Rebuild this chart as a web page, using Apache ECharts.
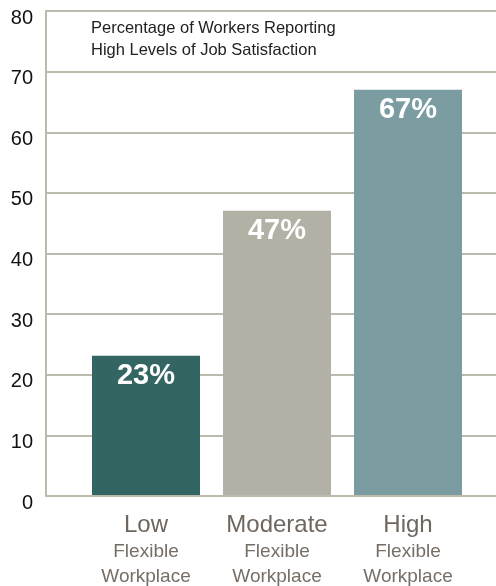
<!DOCTYPE html>
<html>
<head>
<meta charset="utf-8">
<script src="https://cdn.jsdelivr.net/npm/echarts@6/dist/echarts.min.js"></script>
<style>
  html, body { margin: 0; padding: 0; background: #fff; }
  #main { width: 496px; height: 586px; }
</style>
</head>
<body>
<div id="main"></div>
<script>
// chart data
const levels = ['Low', 'Moderate', 'High'];
const satisfaction = [23, 47, 67];
const barColors = ['#336663', '#b3b1a5', '#7b9da1'];
const titleLines = ['Percentage of Workers Reporting', 'High Levels of Job Satisfaction'];

let myChart = echarts.init(document.getElementById('main'));
const lineColor = '#bcb9ad';
const font = 'Liberation Sans, Arial, sans-serif';

let option = {
    animation: false,
    // title sits inside the plot area
    title: {
        text: titleLines.join('\n'),
        left: 86,
        top: 12,
        textStyle: {
            fontFamily: font,
            fontSize: 16.5,
            fontWeight: 'normal',
            color: '#222',
            lineHeight: 22
        }
    },
    grid: [
        // full-width grid for the y axis and gridlines
        { left: 46, right: 0, top: 11, bottom: 90 },
        // narrower grid that holds the bars
        { left: 80.5, width: 393, top: 11, bottom: 90 }
    ],
    xAxis: [
        {
            gridIndex: 0,
            type: 'category',
            data: [''],
            axisLine: { show: true, lineStyle: { color: lineColor, width: 2 } },
            axisTick: { show: false },
            axisLabel: { show: false }
        },
        {
            gridIndex: 1,
            type: 'category',
            data: levels,
            axisLine: { show: false },
            axisTick: { show: false },
            axisLabel: {
                margin: 17,
                formatter: v => '{a|' + v + '}\n{b|Flexible}\n{b|Workplace}',
                rich: {
                    a: { fontFamily: font, fontSize: 24, color: '#6f665e', lineHeight: 27 },
                    b: { fontFamily: font, fontSize: 19, color: '#776e66', lineHeight: 25 }
                }
            }
        }
    ],
    yAxis: [
        {
            gridIndex: 0,
            type: 'value',
            min: 0,
            max: 80,
            interval: 10,
            axisLine: { show: true, lineStyle: { color: lineColor, width: 2 } },
            axisTick: { show: false },
            splitLine: { show: true, lineStyle: { color: lineColor, width: 2 } },
            axisLabel: {
                margin: 13,
                fontFamily: font,
                fontSize: 20,
                color: '#111',
                // labels sit a little below their gridline
                verticalAlign: 'top',
                lineHeight: 14
            }
        },
        {
            gridIndex: 1,
            type: 'value',
            min: 0,
            max: 80,
            interval: 10,
            show: false
        }
    ],
    series: [
        {
            type: 'bar',
            xAxisIndex: 1,
            yAxisIndex: 1,
            barWidth: 108,
            data: satisfaction.map((v, i) => ({ value: v, itemStyle: { color: barColors[i] } })),
            label: {
                show: true,
                position: 'insideTop',
                distance: 6,
                formatter: '{c}%',
                fontFamily: font,
                fontSize: 29,
                fontWeight: 'bold',
                color: '#fff'
            }
        }
    ]
};

option && myChart.setOption(option);
</script>
</body>
</html>
